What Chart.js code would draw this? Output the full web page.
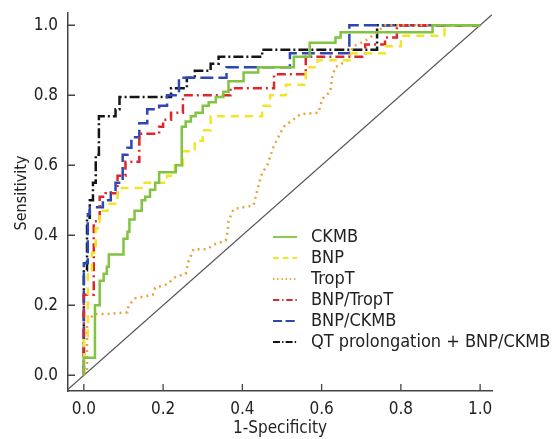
<!DOCTYPE html>
<html>
<head>
<meta charset="utf-8">
<script src="https://cdn.jsdelivr.net/npm/chart.js@4/dist/chart.umd.min.js"></script>
<style>
  html, body { margin: 0; padding: 0; background: #fff; }
  #wrap { width: 558px; height: 439px; }
</style>
</head>
<body>
<div id="wrap"><canvas id="myChart" width="558" height="439"></canvas></div>
<script>
// ROC curves, points are [1-specificity, sensitivity]
const ckmb = [[0,0],[0,0.05],[0.028,0.20],[0.04,0.27],[0.05,0.29],[0.058,0.31],[0.063,0.345],[0.1,0.39],[0.11,0.41],[0.115,0.445],[0.128,0.47],[0.146,0.50],[0.155,0.51],[0.167,0.53],[0.18,0.55],[0.19,0.58],[0.232,0.60],[0.247,0.71],[0.257,0.725],[0.27,0.74],[0.282,0.75],[0.3,0.77],[0.315,0.78],[0.333,0.795],[0.352,0.81],[0.365,0.84],[0.403,0.865],[0.44,0.88],[0.53,0.91],[0.57,0.95],[0.635,0.965],[0.648,0.98],[0.88,1.0],[1,1]]
const bnp = [[0,0],[0,0.10],[0.01,0.30],[0.02,0.35],[0.03,0.42],[0.04,0.47],[0.06,0.49],[0.085,0.535],[0.15,0.55],[0.21,0.57],[0.23,0.60],[0.25,0.64],[0.28,0.67],[0.30,0.70],[0.32,0.74],[0.45,0.77],[0.47,0.80],[0.51,0.83],[0.56,0.88],[0.59,0.90],[0.67,0.92],[0.76,0.94],[0.8,0.97],[0.91,1.0],[1,1]]
const tropT = [[0,0],[0.008,0.02],[0.008,0.15],[0.025,0.175],[0.06,0.175],[0.11,0.18],[0.113,0.20],[0.13,0.22],[0.174,0.23],[0.18,0.25],[0.21,0.26],[0.23,0.28],[0.257,0.29],[0.264,0.325],[0.277,0.36],[0.31,0.36],[0.332,0.375],[0.358,0.385],[0.363,0.41],[0.365,0.44],[0.378,0.475],[0.428,0.485],[0.446,0.565],[0.451,0.58],[0.463,0.60],[0.479,0.654],[0.504,0.71],[0.547,0.746],[0.592,0.75],[0.602,0.79],[0.622,0.81],[0.627,0.855],[0.635,0.88],[0.665,0.90],[0.68,0.94],[0.71,0.955],[0.74,0.98],[0.76,1.0],[1,1]]
const bnpTropT = [[0,0],[0,0.23],[0.025,0.44],[0.04,0.51],[0.055,0.52],[0.085,0.57],[0.105,0.61],[0.14,0.69],[0.19,0.71],[0.2,0.73],[0.22,0.75],[0.25,0.80],[0.37,0.82],[0.48,0.86],[0.56,0.91],[0.71,0.945],[0.76,0.965],[0.79,1.0],[1,1]]
const bnpCkmb = [[0,0],[0,0.32],[0.01,0.46],[0.015,0.48],[0.048,0.50],[0.068,0.53],[0.08,0.55],[0.098,0.63],[0.11,0.65],[0.12,0.68],[0.14,0.72],[0.16,0.76],[0.19,0.77],[0.21,0.80],[0.24,0.85],[0.36,0.88],[0.52,0.92],[0.67,1.0],[1,1]]
const qtBnpCkmb = [[0,0],[0,0.30],[0.008,0.45],[0.015,0.50],[0.023,0.55],[0.03,0.63],[0.038,0.74],[0.08,0.76],[0.09,0.795],[0.22,0.82],[0.26,0.85],[0.28,0.87],[0.32,0.89],[0.34,0.91],[0.45,0.93],[0.74,1.0],[1,1]]
const refLine = [[-0.04,-0.04],[1.03,1.03]]

const labels = ['CKMB', 'BNP', 'TropT', 'BNP/TropT', 'BNP/CKMB', 'QT prolongation + BNP/CKMB']
const colors = ['#82c341', '#f2e526', '#e9a43c', '#e0262d', '#2d48b4', '#151515']
const dashes = [[], [8, 6], [2, 4], [9, 4, 2, 4], [13, 5], [10, 3, 2, 3]]
const series = [ckmb, bnp, tropT, bnpTropT, bnpCkmb, qtBnpCkmb]
const stepped = ['before', 'before', false, 'before', 'before', 'before']

const xTicks = [0, 0.2, 0.4, 0.6, 0.8, 1.0]
const yTicks = [0, 0.2, 0.4, 0.6, 0.8, 1.0]

const FONT = "'DejaVu Sans Condensed', 'DejaVu Sans', sans-serif"

const toXY = arr => arr.map(p => ({x: p[0], y: p[1]}))

const datasets = series.map((s, i) => ({
    label: labels[i],
    data: toXY(s),
    borderColor: colors[i],
    borderDash: dashes[i],
    borderWidth: 2.5,
    stepped: stepped[i],
    showLine: true,
    pointRadius: 0,
    fill: false
}))
datasets.push({
    label: 'ref',
    data: toXY(refLine),
    borderColor: '#555',
    borderWidth: 1.3,
    showLine: true,
    pointRadius: 0,
    fill: false
})

// ticks pointing inwards, y title, legend inside the plot
const extras = {
    id: 'extras',
    afterDraw(chart) {
        const c = chart.ctx
        const a = chart.chartArea
        const xs = chart.scales.x
        const ys = chart.scales.y
        c.save()
        c.strokeStyle = '#444'
        c.lineWidth = 1.3
        c.beginPath()
        xTicks.forEach(t => {
            const px = xs.getPixelForValue(t)
            c.moveTo(px, a.bottom)
            c.lineTo(px, a.bottom - 7)
        })
        yTicks.forEach(t => {
            const py = ys.getPixelForValue(t)
            c.moveTo(a.left, py)
            c.lineTo(a.left + 7, py)
        })
        c.stroke()

        // y axis title
        c.save()
        c.translate(22, 193)
        c.rotate(-Math.PI / 2)
        c.font = '16px ' + FONT
        c.fillStyle = '#222'
        c.textAlign = 'center'
        c.textBaseline = 'middle'
        c.fillText('Sensitivity', 0, 0)
        c.restore()

        const lx = a.left + 205
        let ly = a.top + 224
        c.font = '18px ' + FONT
        c.textBaseline = 'middle'
        c.fillStyle = '#222'
        labels.forEach((lab, i) => {
            c.beginPath()
            c.setLineDash(dashes[i].map(d => d * 0.7))
            c.strokeStyle = colors[i]
            c.lineWidth = 1.8
            c.moveTo(lx, ly)
            c.lineTo(lx + 24, ly)
            c.stroke()
            c.setLineDash([])
            c.fillText(lab, lx + 38, ly)
            ly += 21
        })
        c.restore()
    }
}

const ctx = document.getElementById('myChart').getContext('2d')
const myChart = new Chart(ctx, {
    type: 'scatter',
    data: { datasets },
    options: {
        responsive: false,
        animation: false,
        layout: { padding: { top: 13, right: 66, left: 0, bottom: 0 } },
        plugins: { legend: { display: false }, tooltip: { enabled: false } },
        scales: {
            x: {
                type: 'linear',
                min: -0.04,
                max: 1.03,
                afterBuildTicks: s => { s.ticks = xTicks.map(v => ({value: v})) },
                afterFit: s => { s.height = 48; s.paddingLeft = 0; s.paddingRight = 0 },
                grid: { drawOnChartArea: false, drawTicks: false },
                border: { color: '#444', width: 1.5 },
                ticks: { padding: 8, color: '#222', font: { family: FONT, size: 17 }, callback: v => v.toFixed(1) },
                title: { display: true, text: '1-Specificity', color: '#222', font: { family: FONT, size: 17 }, padding: { top: 1, bottom: 0 } }
            },
            y: {
                type: 'linear',
                min: -0.045,
                max: 1.035,
                afterBuildTicks: s => { s.ticks = yTicks.map(v => ({value: v})) },
                afterFit: s => { s.width = 68; s.paddingTop = 0; s.paddingBottom = 0 },
                grid: { drawOnChartArea: false, drawTicks: false },
                border: { color: '#444', width: 1.5 },
                ticks: { padding: 10, color: '#222', font: { family: FONT, size: 17 }, callback: v => v.toFixed(1) },
                title: { display: false }
            }
        }
    },
    plugins: [extras]
})
</script>
</body>
</html>
